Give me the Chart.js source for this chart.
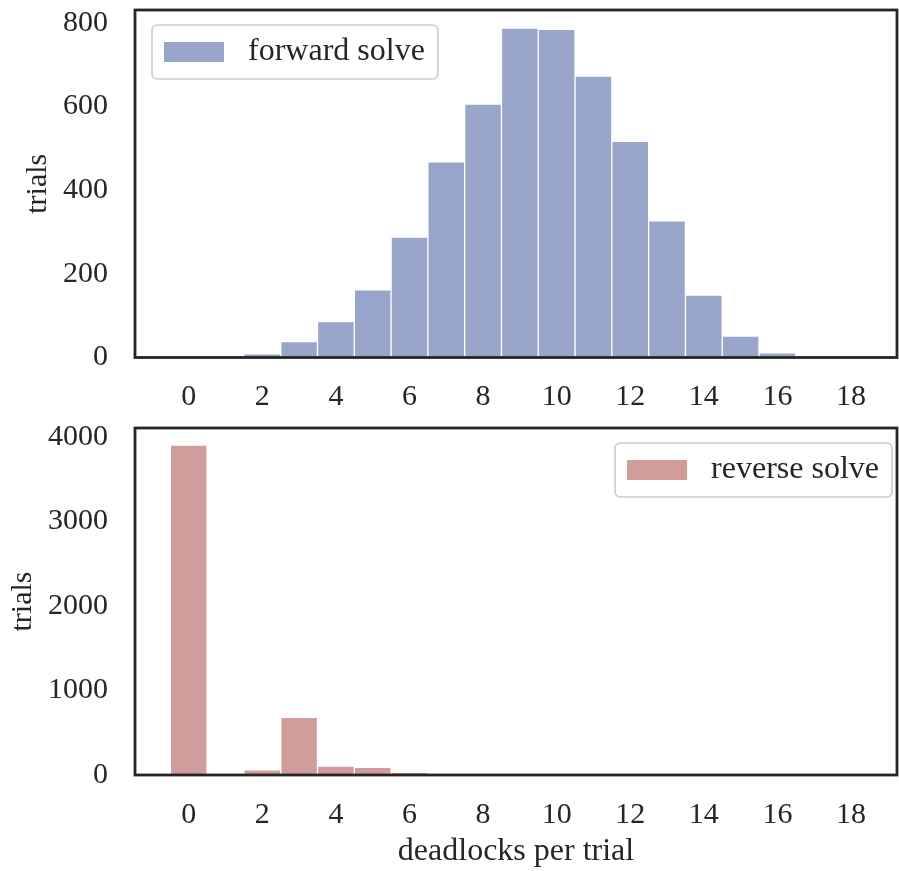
<!DOCTYPE html>
<html>
<head>
<meta charset="utf-8">
<script src="https://cdn.jsdelivr.net/npm/chart.js@4.4.0/dist/chart.umd.min.js"></script>
<style>
  body { margin: 0; background: #fff; }
  canvas { position: absolute; left: 0; }
</style>
</head>
<body>
<canvas id="forwardChart" width="899" height="410" style="top:0"></canvas>
<canvas id="reverseChart" width="899" height="461" style="top:410px"></canvas>
<script>
// one bin per deadlock count
const bins = [0, 1, 2, 3, 4, 5, 6, 7, 8, 9, 10, 11, 12, 13, 14, 15, 16, 17, 18];
const forwardTrials = [0, 0, 9, 38, 86, 162, 288, 468, 606, 788, 785, 673, 517, 327, 149, 51, 11, 0, 0];
const reverseTrials = [3905, 0, 60, 683, 107, 92, 32, 0, 0, 0, 0, 0, 0, 0, 0, 0, 0, 0, 0];
const xTicks = [0, 2, 4, 6, 8, 10, 12, 14, 16, 18];
const forwardYTicks = [0, 200, 400, 600, 800];
const reverseYTicks = [0, 1000, 2000, 3000, 4000];

Chart.defaults.font.family = '"Liberation Serif", serif';
Chart.defaults.font.size = 30;
Chart.defaults.color = '#262626';

// black box round the plot area, drawn over the bars
const frame = {
  id: 'frame',
  afterDatasetsDraw(chart) {
    const { ctx, chartArea: a } = chart;
    ctx.save();
    ctx.strokeStyle = '#262626';
    ctx.lineWidth = 2.8;
    ctx.strokeRect(a.left, a.top, a.right - a.left, a.bottom - a.top);
    ctx.restore();
  }
};

// matplotlib-like legend: rounded box, swatch, label
const boxLegend = {
  id: 'boxLegend',
  afterDraw(chart, args, opts) {
    const { ctx, chartArea: a } = chart;
    const ds = chart.data.datasets[0];
    ctx.save();
    ctx.font = '32px "Liberation Serif", serif';
    const tw = ctx.measureText(ds.label).width;
    const w = 12 + 60 + 24 + tw + 13, h = 54;
    const x = opts.align === 'right' ? a.right - 5 - w : a.left + 17;
    const y = a.top + 15;
    ctx.beginPath();
    ctx.roundRect(x, y, w, h, 5);
    ctx.fillStyle = 'rgba(255,255,255,0.8)';
    ctx.fill();
    ctx.strokeStyle = '#cccccc';
    ctx.lineWidth = 1.6;
    ctx.stroke();
    ctx.fillStyle = ds.backgroundColor;
    ctx.fillRect(x + 12, y + 17, 60, 20);
    ctx.fillStyle = '#262626';
    ctx.textBaseline = 'middle';
    ctx.fillText(ds.label, x + 96, y + h / 2);
    ctx.restore();
  }
};

function histChart(id, label, values, color, yMax, yTicks, opts) {
  return new Chart(document.getElementById(id), {
    type: 'bar',
    data: {
      datasets: [{
        label: label,
        data: bins.map((b, i) => ({ x: b, y: values[i] })),
        backgroundColor: color,
        borderColor: 'rgba(255,255,255,0.55)',
        borderWidth: 1,
        barPercentage: 1,
        categoryPercentage: 1
      }]
    },
    options: {
      responsive: false,
      animation: false,
      layout: { padding: { top: opts.top, right: 2, left: 0, bottom: 0 } },
      plugins: {
        legend: { display: false },
        tooltip: { enabled: false },
        boxLegend: { align: opts.legendAlign }
      },
      scales: {
        x: {
          type: 'linear',
          offset: false,
          min: -1.46,
          max: 19.25,
          grid: { display: false, drawTicks: false },
          border: { display: false },
          ticks: { padding: 22, callback: v => String(v) },
          afterBuildTicks: s => { s.ticks = xTicks.map(v => ({ value: v })); },
          afterFit: s => {
            s.height = opts.xHeight;
            s.paddingLeft = 0;
            s.paddingRight = 0;
          },
          title: {
            display: !!opts.xTitle,
            text: opts.xTitle || '',
            font: { size: 32 },
            padding: { top: 0, bottom: 0 }
          }
        },
        y: {
          min: 0,
          max: yMax,
          grid: { display: false, drawTicks: false },
          border: { display: false },
          ticks: { padding: 27, callback: v => String(v) },
          afterBuildTicks: s => { s.ticks = yTicks.map(v => ({ value: v })); },
          afterFit: s => {
            s.width = 135;
            s.paddingTop = 0;
            s.paddingBottom = 0;
          },
          title: {
            display: true,
            text: 'trials',
            font: { size: 30 },
            padding: { top: opts.yTitlePad, bottom: 0 }
          }
        }
      }
    },
    plugins: [frame, boxLegend]
  });
}

histChart('forwardChart', 'forward solve', forwardTrials, '#99a6cb', 831, forwardYTicks,
  { top: 10, xHeight: 52.5, legendAlign: 'left', yTitlePad: 20 });
histChart('reverseChart', 'reverse solve', reverseTrials, '#d19c9a', 4107, reverseYTicks,
  { top: 18, xHeight: 96, legendAlign: 'right', yTitlePad: 5, xTitle: 'deadlocks per trial' });
</script>
</body>
</html>
